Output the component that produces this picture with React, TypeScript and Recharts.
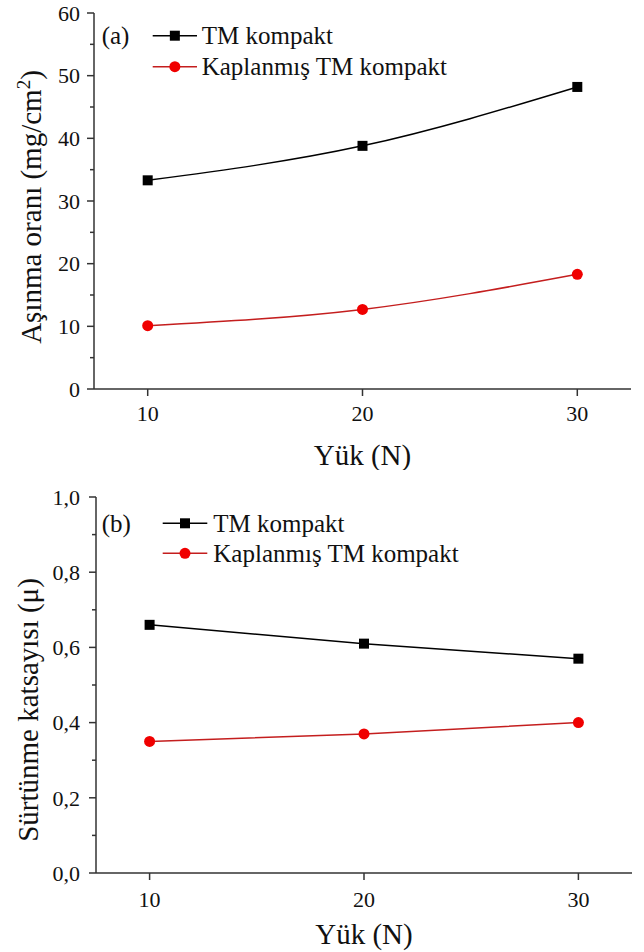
import React from 'react';
import { LineChart, Line, XAxis, YAxis, Legend } from 'recharts';

const loads = [10, 20, 30];
const wearTM = [33.3, 38.8, 48.2];
const wearCoated = [10.1, 12.7, 18.3];
const frictionTM = [0.66, 0.61, 0.57];
const frictionCoated = [0.35, 0.37, 0.4];

const seriesNames = ['TM kompakt', 'Kaplanmış TM kompakt'];
const xTicks = [10, 20, 30];
const wearTicks = [0, 5, 10, 15, 20, 25, 30, 35, 40, 45, 50, 55, 60];
const frictionTicks = [0, 0.1, 0.2, 0.3, 0.4, 0.5, 0.6, 0.7, 0.8, 0.9, 1.0];

const wearData = loads.map((l, i) => ({ load: l, tm: wearTM[i], coated: wearCoated[i] }));
const frictionData = loads.map((l, i) => ({ load: l, tm: frictionTM[i], coated: frictionCoated[i] }));

const FONT = "'Liberation Serif', 'Times New Roman', serif";
const AXIS = '#333';
const RED_LINE = '#c41e1e';
const RED_DOT = '#f00000';
const TXT = '#111';

const SquareDot = (p: any) => {
  if (p.cx == null || p.cy == null) return <g key={`sq-${p.index}`} />;
  return <rect key={`sq-${p.index}`} x={p.cx - 5} y={p.cy - 5} width={10} height={10} fill="#000" />;
};

const makeYTick = (majorStep: number, fmt: (v: number) => string, tickSize: number, tickMargin: number) =>
  (props: any) => {
    const { x, y, payload } = props;
    const v = payload.value as number;
    const r = v / majorStep;
    const isMajor = Math.abs(r - Math.round(r)) < 1e-6;
    const axisX = x + tickSize + tickMargin;
    return (
      <g>
        <line x1={axisX - (isMajor ? tickSize : 4)} x2={axisX} y1={y} y2={y} stroke={AXIS} strokeWidth={1.5} />
        {isMajor && (
          <text x={x} y={y} dy="0.355em" textAnchor="end" style={{ fontFamily: FONT, fontSize: 22 }} fill={TXT}>
            {fmt(v)}
          </text>
        )}
      </g>
    );
  };

const XTick = (props: any) => {
  const { x, y, payload } = props;
  return (
    <text x={x} y={y} dy="0.71em" textAnchor="middle" style={{ fontFamily: FONT, fontSize: 22 }} fill={TXT}>
      {String(payload.value)}
    </text>
  );
};

const XTitle = (props: any) => {
  const { viewBox, baseline } = props;
  const cx = viewBox.x + viewBox.width / 2;
  return (
    <text x={cx} y={baseline} textAnchor="middle" style={{ fontFamily: FONT, fontSize: 29 }} fill={TXT}>
      Yük (N)
    </text>
  );
};

const YTitleA = (props: any) => {
  const { viewBox } = props;
  const cy = viewBox.y + viewBox.height / 2 + 6;
  return (
    <text transform={`translate(41,${cy}) rotate(-90)`} textAnchor="middle" style={{ fontFamily: FONT, fontSize: 29 }} fill={TXT}>
      Aşınma oranı (mg/cm<tspan dy={-11} style={{ fontSize: 19 }}>2</tspan>
      <tspan dy={11}>)</tspan>
    </text>
  );
};

const YTitleB = (props: any) => {
  const { viewBox } = props;
  const cy = viewBox.y + viewBox.height / 2 + 25;
  return (
    <text transform={`translate(38,${cy}) rotate(-90)`} textAnchor="middle" style={{ fontFamily: FONT, fontSize: 29 }} fill={TXT}>
      Sürtünme katsayısı (μ)
    </text>
  );
};

const makeLegend = (tag: string, y1: number, y2: number, lineX1: number, lineX2: number, textX: number) =>
  (props: any) => {
    const payload = ((props.payload || []) as any[]).slice().sort(
      (a, b) => (a.dataKey === 'tm' ? 0 : 1) - (b.dataKey === 'tm' ? 0 : 1)
    );
    const rows = [y1, y2];
    return (
      <svg width={420} height={90} style={{ overflow: 'visible', display: 'block' }}>
        <text x={11.7} y={y1} dy="0.34em" style={{ fontFamily: FONT, fontSize: 25 }} fill={TXT}>{tag}</text>
        {payload.map((entry, i) => {
          const yy = rows[i];
          const mx = (lineX1 + lineX2) / 2;
          const isRed = entry.dataKey === 'coated';
          return (
            <g key={`lg-${i}`}>
              <line x1={lineX1} x2={lineX2} y1={yy} y2={yy} stroke={isRed ? RED_LINE : '#000'} strokeWidth={1.5} />
              {isRed ? (
                <circle cx={mx} cy={yy} r={5.5} fill={RED_DOT} />
              ) : (
                <rect x={mx - 5} y={yy - 5} width={10} height={10} fill="#000" />
              )}
              <text x={textX} y={yy} dy="0.34em" style={{ fontFamily: FONT, fontSize: 25 }} fill={TXT}>{entry.value}</text>
            </g>
          );
        })}
      </svg>
    );
  };

export default function App() {
  return (
    <div style={{ position: 'absolute', left: 0, top: 0, width: 644, height: 952, background: '#fff' }}>
      <div style={{ position: 'absolute', left: 0, top: 0 }}>
        <LineChart width={644} height={470} data={wearData} margin={{ top: 13, right: 13, left: 0, bottom: 21 }}>
          <XAxis
            dataKey="load"
            type="number"
            domain={[7.5, 32.5]}
            ticks={xTicks}
            allowDataOverflow
            height={60}
            tickSize={7}
            tickMargin={9}
            stroke={AXIS}
            strokeWidth={1.5}
            tick={XTick}
            label={<XTitle baseline={465} />}
          />
          <XAxis xAxisId="top" orientation="top" type="number" domain={[7.5, 32.5]} height={0} tick={false} tickLine={false} stroke={AXIS} strokeWidth={1.5} />
          <YAxis
            type="number"
            domain={[0, 60]}
            ticks={wearTicks}
            width={94}
            tickSize={7}
            tickMargin={7}
            tickLine={false}
            stroke={AXIS}
            strokeWidth={1.5}
            interval={0}
            tick={makeYTick(10, (v) => String(v), 7, 7)}
            label={<YTitleA />}
          />
          <YAxis yAxisId="right" orientation="right" domain={[0, 60]} width={0} tick={false} tickLine={false} stroke={AXIS} strokeWidth={1.5} />
          <Legend
            layout="vertical"
            align="center"
            verticalAlign="middle"
            wrapperStyle={{ left: 90, top: 10, width: 420, height: 90 }}
            content={makeLegend('(a)', 25.7, 56.7, 62.7, 107, 111.7)}
          />
          <Line name={seriesNames[0]} dataKey="tm" type="natural" stroke="#000" strokeWidth={1.5} dot={SquareDot} isAnimationActive={false} />
          <Line name={seriesNames[1]} dataKey="coated" type="natural" stroke={RED_LINE} strokeWidth={1.5} dot={{ r: 5.5, fill: RED_DOT, stroke: RED_DOT, strokeWidth: 0 }} isAnimationActive={false} />
        </LineChart>
      </div>
      <div style={{ position: 'absolute', left: 0, top: 470 }}>
        <LineChart width={644} height={482} data={frictionData} margin={{ top: 27, right: 12, left: 0, bottom: 19 }}>
          <XAxis
            dataKey="load"
            type="number"
            domain={[7.5, 32.5]}
            ticks={xTicks}
            allowDataOverflow
            height={60}
            tickSize={7}
            tickMargin={11}
            stroke={AXIS}
            strokeWidth={1.5}
            tick={XTick}
            label={<XTitle baseline={474} />}
          />
          <XAxis xAxisId="top" orientation="top" type="number" domain={[7.5, 32.5]} height={0} tick={false} tickLine={false} stroke={AXIS} strokeWidth={1.5} />
          <YAxis
            type="number"
            domain={[0, 1]}
            ticks={frictionTicks}
            width={96}
            tickSize={7}
            tickMargin={9}
            tickLine={false}
            stroke={AXIS}
            strokeWidth={1.5}
            interval={0}
            tick={makeYTick(0.2, (v) => v.toFixed(1).replace('.', ','), 7, 9)}
            label={<YTitleB />}
          />
          <YAxis yAxisId="right" orientation="right" domain={[0, 1]} width={0} tick={false} tickLine={false} stroke={AXIS} strokeWidth={1.5} />
          <Legend
            layout="vertical"
            align="center"
            verticalAlign="middle"
            wrapperStyle={{ left: 90, top: 10, width: 420, height: 90 }}
            content={makeLegend('(b)', 43.3, 73.3, 72.7, 117.3, 123.3)}
          />
          <Line name={seriesNames[0]} dataKey="tm" type="linear" stroke="#000" strokeWidth={1.5} dot={SquareDot} isAnimationActive={false} />
          <Line name={seriesNames[1]} dataKey="coated" type="linear" stroke={RED_LINE} strokeWidth={1.5} dot={{ r: 5.5, fill: RED_DOT, stroke: RED_DOT, strokeWidth: 0 }} isAnimationActive={false} />
        </LineChart>
      </div>
    </div>
  );
}
